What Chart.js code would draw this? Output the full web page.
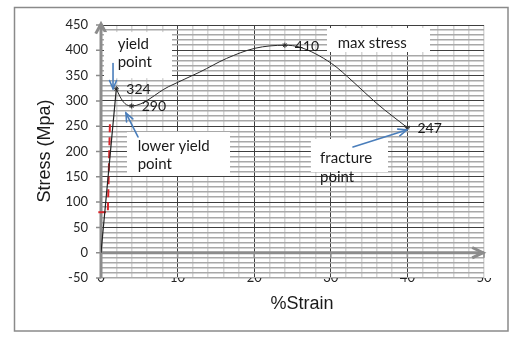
<!DOCTYPE html>
<html><head><meta charset="utf-8">
<script src="https://cdn.jsdelivr.net/npm/chart.js@4.4.1/dist/chart.umd.min.js"></script>
<style>html,body{margin:0;padding:0;background:#fff}canvas{display:block}</style>
</head><body>
<canvas id="c" width="515" height="342"></canvas>
<script>
// Tensile test of a steel specimen: engineering stress vs. percent strain
const strain = [0, 2, 2.5, 3.1, 4, 8.8, 12.9, 16.4, 20.1, 24, 26, 30.1, 32.9, 36, 40];
const stress = [0, 324, 308, 295, 290, 328, 357, 384, 404, 410, 406, 374, 338, 295, 247];

// labelled points: upper yield, lower yield, max stress, fracture
const keyStrain = [2, 4, 24, 40];
const keyStress = [324, 290, 410, 247];

// offset construction line (dashed) and its short marker at the strain axis
const offsetStrain = [0.9, 1.17];
const offsetStress = [84, 258];
const offsetMarkStrain = [-0.35, 0.65];
const offsetMarkStress = [80, 80];

// axis tick labels
const xTickLabels = [0, 10, 20, 30, 40, 50];
const yTickLabels = [-50, 0, 50, 100, 150, 200, 250, 300, 350, 400, 450];

// callout text boxes (in data units): box [x1, y1, x2, y2], text lines [text, x, y]
const notes = [
  { box: [0.39, 436, 9.27, 345], lines: [['yield', 2.18, 402.6], ['point', 2.18, 367]] },
  { box: [3.39, 238.5, 16.84, 151.6], lines: [['lower yield', 4.79, 201.6], ['point', 4.79, 164.8]] },
  { box: [29.5, 444, 42.95, 396.6], lines: [['max stress', 30.9, 403.6]] },
  { box: [27.4, 224.7, 37.47, 159.5], lines: [['fracture', 28.6, 176.7], ['point', 28.6, 140.7]] }
];
// callout arrows: [fromX, fromY, toX, toY]
const arrows = [
  [1.57, 374, 1.57, 324],
  [4.83, 228.7, 3.26, 276],
  [32.9, 208.9, 39.9, 242.5]
];

const pts = (xs, ys) => xs.map((x, i) => ({ x: x, y: ys[i] }));

const FONT = 'Lato, "Open Sans", sans-serif';
const TITLE_FONT = '"Liberation Sans", Arial, sans-serif';

function arrowHead(ctx, x1, y1, x2, y2, len, spread) {
  const a = Math.atan2(y2 - y1, x2 - x1);
  ctx.beginPath();
  ctx.moveTo(x2 - len * Math.cos(a - spread), y2 - len * Math.sin(a - spread));
  ctx.lineTo(x2, y2);
  ctx.lineTo(x2 - len * Math.cos(a + spread), y2 - len * Math.sin(a + spread));
  ctx.stroke();
}

const decor = {
  id: 'decor',
  beforeDatasetsDraw(chart) {
    const ctx = chart.ctx, xs = chart.scales.x, ys = chart.scales.y;
    const X = v => xs.getPixelForValue(v), Y = v => ys.getPixelForValue(v);
    ctx.save();
    // axes through the origin
    ctx.strokeStyle = '#8c8c8c';
    ctx.lineWidth = 3;
    ctx.lineCap = 'butt';
    ctx.beginPath();
    ctx.moveTo(X(0), Y(-50)); ctx.lineTo(X(0), Y(450));
    ctx.moveTo(X(0), Y(0)); ctx.lineTo(X(50), Y(0));
    ctx.stroke();
    ctx.lineJoin = 'miter';
    arrowHead(ctx, X(0), Y(0), X(0), Y(450) - 1, 11, 0.5);
    arrowHead(ctx, X(0), Y(0), X(50) - 1, Y(0), 12, 0.45);
    // small tick marks on the axes
    ctx.lineWidth = 1.5;
    ctx.beginPath();
    yTickLabels.forEach(v => { ctx.moveTo(X(0) - 5, Y(v)); ctx.lineTo(X(0), Y(v)); });
    xTickLabels.forEach(v => { ctx.moveTo(X(v), Y(0)); ctx.lineTo(X(v), Y(0) + 5); });
    ctx.stroke();
    // white callout boxes
    ctx.fillStyle = '#ffffff';
    notes.forEach(n => {
      const [a, b, c, d] = n.box;
      ctx.fillRect(X(a), Y(b), X(c) - X(a), Y(d) - Y(b));
    });
    ctx.restore();
  },
  afterDatasetsDraw(chart) {
    const ctx = chart.ctx, xs = chart.scales.x, ys = chart.scales.y;
    const X = v => xs.getPixelForValue(v), Y = v => ys.getPixelForValue(v);
    ctx.save();
    // callout text
    ctx.fillStyle = '#1a1a1a';
    ctx.font = '15px ' + FONT;
    ctx.textAlign = 'left';
    ctx.textBaseline = 'alphabetic';
    notes.forEach(n => n.lines.forEach(([t, x, y]) => ctx.fillText(t, X(x), Y(y))));
    // value labels next to the labelled points
    ctx.font = '14px ' + FONT;
    ctx.textBaseline = 'middle';
    keyStrain.forEach((s, i) => ctx.fillText(String(keyStress[i]), X(s) + 10, Y(keyStress[i]) + 1));
    // callout arrows
    ctx.strokeStyle = '#4a7ebb';
    ctx.lineWidth = 1.6;
    ctx.lineCap = 'round';
    arrows.forEach(([a, b, c, d]) => {
      const x1 = X(a), y1 = Y(b), x2 = X(c), y2 = Y(d);
      ctx.beginPath(); ctx.moveTo(x1, y1); ctx.lineTo(x2, y2); ctx.stroke();
      arrowHead(ctx, x1, y1, x2, y2, 9, 0.4);
    });
    ctx.restore();
  },
  afterDraw(chart) {
    const ctx = chart.ctx;
    ctx.save();
    // axis titles
    ctx.fillStyle = '#1a1a1a';
    ctx.font = '18px ' + TITLE_FONT;
    ctx.textAlign = 'center';
    ctx.textBaseline = 'middle';
    ctx.fillText('%Strain', 302, 304);
    ctx.translate(45, 151);
    ctx.rotate(-Math.PI / 2);
    ctx.fillText('Stress (Mpa)', 0, 0);
    ctx.restore();
    // chart frame
    ctx.save();
    ctx.strokeStyle = '#8a8a8a';
    ctx.lineWidth = 1.5;
    ctx.strokeRect(14.5, 7.5, 493.5, 323.5);
    ctx.restore();
  }
};

new Chart(document.getElementById('c'), {
  type: 'scatter',
  data: {
    datasets: [
      { // elastic region
        data: pts(strain.slice(0, 2), stress.slice(0, 2)),
        showLine: true, borderColor: '#222222', borderWidth: 1.2, pointRadius: 0, tension: 0
      },
      { // plastic region
        data: pts(strain.slice(1), stress.slice(1)),
        showLine: true, borderColor: '#2a2a2a', borderWidth: 1, pointRadius: 0,
        cubicInterpolationMode: 'monotone'
      },
      { // labelled points
        data: pts(keyStrain, keyStress),
        showLine: false, pointStyle: 'star', pointRadius: 2.6,
        borderColor: '#333333', backgroundColor: '#333333', borderWidth: 1
      },
      { // offset line
        data: pts(offsetStrain, offsetStress),
        showLine: true, borderColor: '#d9262b', borderWidth: 2, borderDash: [8, 5],
        pointRadius: 0, clip: false
      },
      {
        data: pts(offsetMarkStrain, offsetMarkStress),
        showLine: true, borderColor: '#d9262b', borderWidth: 2,
        pointRadius: 0, clip: false
      }
    ]
  },
  options: {
    responsive: false,
    animation: false,
    devicePixelRatio: 1,
    layout: { padding: { left: 0, top: 25, right: 31, bottom: 0 } },
    plugins: { legend: { display: false }, tooltip: { enabled: false } },
    scales: {
      x: {
        type: 'linear', min: 0, max: 50,
        afterFit: s => { s.height = 64; },
        border: { display: false },
        grid: {
          drawTicks: false,
          color: c => (c.tick.value % 10 === 0 && c.tick.value !== 50) ? '#3f3f3f' : '#d6d6d6',
          lineWidth: c => (c.tick.value % 10 === 0 && c.tick.value !== 50) ? 1 : 1.5
        },
        ticks: {
          stepSize: 2, autoSkip: false, maxRotation: 0, padding: -8,
          color: '#262626', font: { family: FONT, size: 13 },
          callback: v => xTickLabels.includes(v) ? String(v) : ''
        }
      },
      y: {
        type: 'linear', min: -50, max: 450,
        afterFit: s => { s.width = 101; },
        border: { display: false },
        grid: {
          drawTicks: false,
          color: c => (c.tick.value % 50 === 0 && c.tick.value !== -50) ? '#3f3f3f' : '#a8a8a8',
          lineWidth: c => (c.tick.value % 50 === 0 && c.tick.value !== -50) ? 1 : 1.5
        },
        ticks: {
          stepSize: 10, autoSkip: false, padding: 13,
          color: '#262626', font: { family: FONT, size: 13 },
          callback: v => yTickLabels.includes(v) ? String(v) : ''
        }
      }
    }
  },
  plugins: [decor]
});
</script>
</body></html>
